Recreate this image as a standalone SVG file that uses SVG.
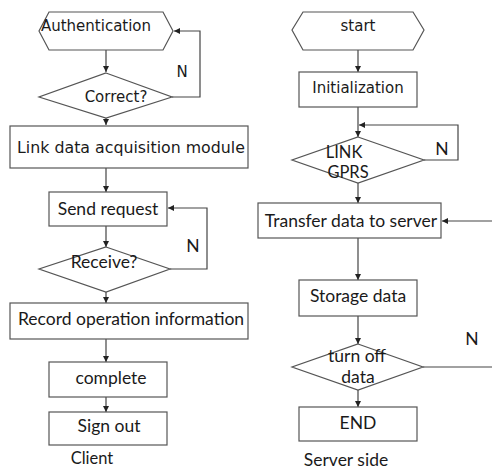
<svg xmlns="http://www.w3.org/2000/svg" width="492" height="470" viewBox="0 0 492 470">
<defs>
<marker id="ah" viewBox="0 0 8 8" refX="8" refY="4" markerWidth="6" markerHeight="6" markerUnits="userSpaceOnUse" orient="auto"><path d="M0,0 L8,4 L0,8 z" fill="#222"/></marker>
<style>
.s{fill:#fff;stroke:#555;stroke-width:1.2}
.c{fill:none;stroke:#444;stroke-width:1.2}
.v{font-family:"DejaVu Sans",sans-serif;font-size:15px;fill:#1a1a1a}
.l{font-family:Lato,"Liberation Sans",sans-serif;font-size:17.5px;fill:#1a1a1a}
text{text-anchor:middle}
</style>
</defs>
<rect width="492" height="470" fill="#fff"/>
<g id="connectors">
<path class="c" d="M106,50 V72" marker-end="url(#ah)"/>
<path class="c" d="M172,97 H200 V31 H174" marker-end="url(#ah)"/>
<path class="c" d="M106,118 V125" marker-end="url(#ah)"/>
<path class="c" d="M106,168 V192" marker-end="url(#ah)"/>
<path class="c" d="M106,226 V247" marker-end="url(#ah)"/>
<path class="c" d="M170,269 H207 V208 H168" marker-end="url(#ah)"/>
<path class="c" d="M106,292 V303" marker-end="url(#ah)"/>
<path class="c" d="M106,339 V362" marker-end="url(#ah)"/>
<path class="c" d="M106,397 V412" marker-end="url(#ah)"/>
<path class="c" d="M358,50 V72" marker-end="url(#ah)"/>
<path class="c" d="M358,107 V137" marker-end="url(#ah)"/>
<path class="c" d="M424,160 H458 V125 H359" marker-end="url(#ah)"/>
<path class="c" d="M358,183 V203" marker-end="url(#ah)"/>
<path class="c" d="M492,221 H442" marker-end="url(#ah)"/>
<path class="c" d="M358,238 V280" marker-end="url(#ah)"/>
<path class="c" d="M358,316 V344" marker-end="url(#ah)"/>
<path class="c" d="M423,367 H492"/>
<path class="c" d="M358,390 V407" marker-end="url(#ah)"/>
<text class="v" x="182" y="77">N</text>
<text class="l" x="193" y="252">N</text>
<text class="l" x="442" y="155">N</text>
<text class="l" x="472" y="345">N</text>
</g>
<g id="authentication"><polygon class="s" points="49,12 163,12 173,31 163,50 49,50 39,31"/><text class="v" x="96" y="31">Authentication</text></g>
<g id="correct"><polygon class="s" points="106,73 172,97 106,118 39,97"/><text class="v" x="116" y="102">Correct?</text></g>
<g id="link"><rect class="s" x="10" y="126" width="238" height="42"/><text class="v" x="131" y="153" style="font-size:15.8px">Link data acquisition module</text></g>
<g id="send"><rect class="s" x="49" y="192" width="118" height="34"/><text class="l" x="108" y="215">Send request</text></g>
<g id="receive"><polygon class="s" points="106,247 170,269 106,292 39,269"/><text class="l" x="104" y="268">Receive?</text></g>
<g id="record"><rect class="s" x="10" y="303" width="238" height="36"/><text class="l" x="131" y="325">Record operation information</text></g>
<g id="complete"><rect class="s" x="49" y="362" width="118" height="35"/><text class="l" x="111" y="384">complete</text></g>
<g id="signout"><rect class="s" x="49" y="412" width="118" height="33"/><text class="l" x="109" y="432">Sign out</text></g>
<text class="l" x="92" y="464" style="font-size:16.5px">Client</text>
<g id="start"><polygon class="s" points="303,12 413,12 424,30 413,50 303,50 292,30"/><text class="v" x="358" y="31">start</text></g>
<g id="init"><rect class="s" x="299" y="72" width="118" height="35"/><text class="v" x="358" y="93">Initialization</text></g>
<g id="linkgprs"><polygon class="s" points="358,137 424,160 358,183 292,160"/><text class="l" x="344" y="158" style="font-size:16.5px">LINK</text><text class="l" x="348" y="178" style="font-size:16.5px">GPRS</text></g>
<g id="transfer"><rect class="s" x="258" y="203" width="183" height="35"/><text class="l" x="351" y="227">Transfer data to server</text></g>
<g id="storage"><rect class="s" x="299" y="280" width="118" height="36"/><text class="l" x="358" y="302">Storage data</text></g>
<g id="turnoff"><polygon class="s" points="358,344 423,367 358,390 292,367"/><text class="l" x="357" y="362">turn off</text><text class="l" x="358" y="383">data</text></g>
<g id="end"><rect class="s" x="299" y="407" width="118" height="34"/><text class="l" x="358" y="429">END</text></g>
<text class="l" x="346" y="466">Server side</text>
</svg>
